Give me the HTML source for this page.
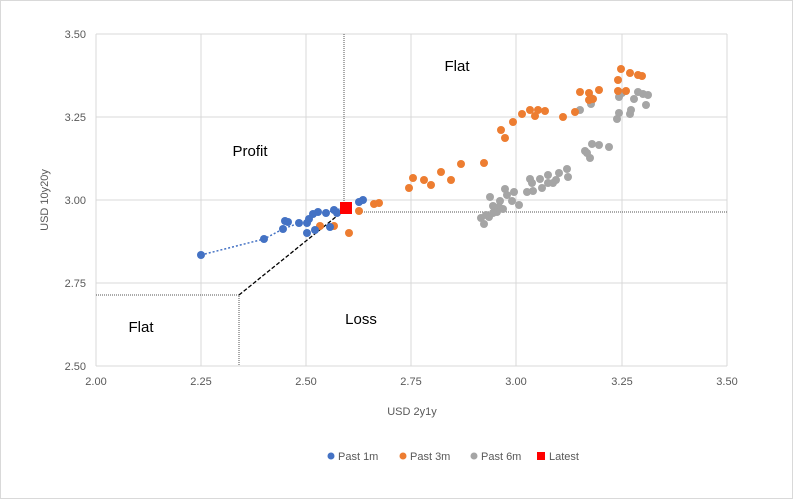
<!DOCTYPE html>
<html><head><meta charset="utf-8"><style>
body{margin:0;background:#fff}
svg{display:block;font-family:"Liberation Sans",Arial,sans-serif}
</style></head><body>
<svg width="793" height="499" viewBox="0 0 793 499" xmlns="http://www.w3.org/2000/svg">
<rect x="0.5" y="0.5" width="792" height="498" fill="#fff" stroke="#d9d9d9"/>
<g stroke="#d9d9d9" stroke-width="1">
<line x1="96" y1="34" x2="96" y2="366"/><line x1="201" y1="34" x2="201" y2="366"/><line x1="306" y1="34" x2="306" y2="366"/><line x1="411" y1="34" x2="411" y2="366"/><line x1="516" y1="34" x2="516" y2="366"/><line x1="622" y1="34" x2="622" y2="366"/><line x1="727" y1="34" x2="727" y2="366"/>
<line x1="96" y1="34" x2="727" y2="34"/><line x1="96" y1="117" x2="727" y2="117"/><line x1="96" y1="200" x2="727" y2="200"/><line x1="96" y1="283" x2="727" y2="283"/><line x1="96" y1="366" x2="727" y2="366"/>
</g>
<g stroke="#555" stroke-width="1" stroke-dasharray="1,1" fill="none">
<polyline points="96,295 239,295 239,366"/>
<line x1="344" y1="34" x2="344" y2="205"/>
<line x1="358" y1="212" x2="727" y2="212"/>
</g>
<line x1="239" y1="295" x2="337" y2="216" stroke="#000" stroke-width="1.3" stroke-dasharray="4,2"/>
<g fill="#595959" font-size="11" text-anchor="end">
<text x="86" y="38">3.50</text><text x="86" y="121">3.25</text><text x="86" y="204">3.00</text><text x="86" y="287">2.75</text><text x="86" y="370">2.50</text>
</g>
<g fill="#595959" font-size="11" text-anchor="middle">
<text x="96" y="385">2.00</text><text x="201" y="385">2.25</text><text x="306" y="385">2.50</text><text x="411" y="385">2.75</text><text x="516" y="385">3.00</text><text x="622" y="385">3.25</text><text x="727" y="385">3.50</text>
<text x="412" y="415">USD 2y1y</text>
<text transform="translate(48,200) rotate(-90)">USD 10y20y</text>
</g>
<g font-size="15" fill="#000" text-anchor="middle">
<text x="457" y="71">Flat</text><text x="250" y="156">Profit</text><text x="361" y="324">Loss</text><text x="141" y="332">Flat</text>
</g>
<g fill="#A5A5A5">
<circle cx="580" cy="110" r="4"/><circle cx="591" cy="104" r="4"/><circle cx="591" cy="98" r="4"/><circle cx="619" cy="97" r="4"/><circle cx="619" cy="113" r="4"/><circle cx="617" cy="119" r="4"/><circle cx="630" cy="114" r="4"/><circle cx="631" cy="110" r="4"/><circle cx="634" cy="99" r="4"/><circle cx="638" cy="92" r="4"/><circle cx="643" cy="94" r="4"/><circle cx="648" cy="95" r="4"/><circle cx="646" cy="105" r="4"/><circle cx="622" cy="93" r="4"/>
<circle cx="585" cy="151" r="4"/><circle cx="592" cy="144" r="4"/><circle cx="590" cy="158" r="4"/><circle cx="599" cy="145" r="4"/><circle cx="609" cy="147" r="4"/><circle cx="587" cy="153" r="4"/>
<circle cx="567" cy="169" r="4"/><circle cx="568" cy="177" r="4"/><circle cx="559" cy="173" r="4"/><circle cx="548" cy="175" r="4"/><circle cx="548" cy="183" r="4"/><circle cx="553" cy="183" r="4"/><circle cx="556" cy="180" r="4"/><circle cx="540" cy="179" r="4"/><circle cx="530" cy="179" r="4"/><circle cx="532" cy="183" r="4"/><circle cx="542" cy="188" r="4"/><circle cx="533" cy="191" r="4"/><circle cx="527" cy="192" r="4"/><circle cx="514" cy="192" r="4"/><circle cx="505" cy="189" r="4"/><circle cx="507" cy="195" r="4"/><circle cx="519" cy="205" r="4"/><circle cx="512" cy="201" r="4"/><circle cx="500" cy="201" r="4"/><circle cx="490" cy="197" r="4"/><circle cx="493" cy="206" r="4"/><circle cx="499" cy="207" r="4"/><circle cx="503" cy="209" r="4"/><circle cx="497" cy="212" r="4"/><circle cx="489" cy="217" r="4"/><circle cx="481" cy="218" r="4"/><circle cx="484" cy="224" r="4"/><circle cx="486" cy="215" r="4"/><circle cx="493" cy="213" r="4"/>
</g>
<g fill="#ED7D31">
<circle cx="409" cy="188" r="4"/><circle cx="413" cy="178" r="4"/><circle cx="424" cy="180" r="4"/><circle cx="431" cy="185" r="4"/><circle cx="441" cy="172" r="4"/><circle cx="451" cy="180" r="4"/><circle cx="461" cy="164" r="4"/><circle cx="484" cy="163" r="4"/><circle cx="501" cy="130" r="4"/><circle cx="505" cy="138" r="4"/><circle cx="513" cy="122" r="4"/><circle cx="522" cy="114" r="4"/><circle cx="530" cy="110" r="4"/><circle cx="535" cy="116" r="4"/><circle cx="538" cy="110" r="4"/><circle cx="545" cy="111" r="4"/><circle cx="563" cy="117" r="4"/><circle cx="575" cy="112" r="4"/><circle cx="580" cy="92" r="4"/><circle cx="589" cy="93" r="4"/><circle cx="589" cy="100" r="4"/><circle cx="593" cy="99" r="4"/><circle cx="599" cy="90" r="4"/><circle cx="618" cy="80" r="4"/><circle cx="618" cy="91" r="4"/><circle cx="621" cy="69" r="4"/><circle cx="626" cy="91" r="4"/><circle cx="630" cy="73" r="4"/><circle cx="638" cy="75" r="4"/><circle cx="642" cy="76" r="4"/>
<circle cx="320" cy="226" r="4"/><circle cx="334" cy="226" r="4"/><circle cx="349" cy="233" r="4"/><circle cx="359" cy="211" r="4"/><circle cx="374" cy="204" r="4"/><circle cx="379" cy="203" r="4"/>
</g>
<polyline points="201,255 264,239 283,229 299,223 307,223 313,214 318,212 326,213 334,210 346,208" fill="none" stroke="#4472C4" stroke-width="1.5" stroke-dasharray="2,2"/>
<g fill="#4472C4">
<circle cx="201" cy="255" r="4"/><circle cx="264" cy="239" r="4"/><circle cx="283" cy="229" r="4"/><circle cx="285" cy="221" r="4"/><circle cx="288" cy="222" r="4"/><circle cx="299" cy="223" r="4"/><circle cx="307" cy="223" r="4"/><circle cx="309" cy="219" r="4"/><circle cx="313" cy="214" r="4"/><circle cx="318" cy="212" r="4"/><circle cx="326" cy="213" r="4"/><circle cx="334" cy="210" r="4"/><circle cx="337" cy="213" r="4"/><circle cx="307" cy="233" r="4"/><circle cx="315" cy="230" r="4"/><circle cx="330" cy="227" r="4"/><circle cx="359" cy="202" r="4"/><circle cx="363" cy="200" r="4"/>
</g>
<rect x="340" y="202" width="12" height="12" fill="#FF0000"/>
<g font-size="11" fill="#595959">
<circle cx="331" cy="456" r="3.5" fill="#4472C4"/><text x="338" y="460">Past 1m</text>
<circle cx="403" cy="456" r="3.5" fill="#ED7D31"/><text x="410" y="460">Past 3m</text>
<circle cx="474" cy="456" r="3.5" fill="#A5A5A5"/><text x="481" y="460">Past 6m</text>
<rect x="537" y="452" width="8" height="8" fill="#FF0000"/><text x="549" y="460">Latest</text>
</g>
</svg>
</body></html>
